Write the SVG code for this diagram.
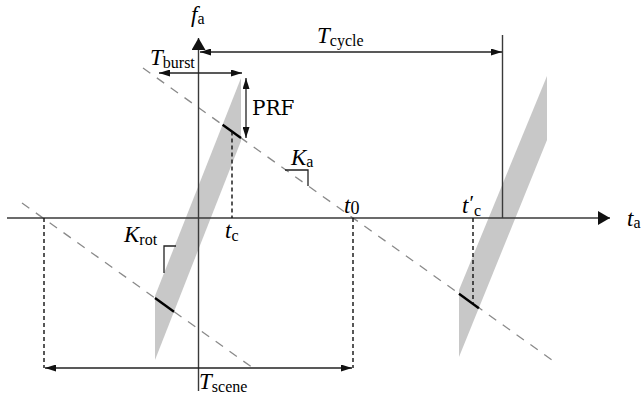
<svg xmlns="http://www.w3.org/2000/svg" width="642" height="396" viewBox="0 0 642 396">
<style>
.ax{stroke:#3a3a3a;stroke-width:1.4;fill:none}
.dim{stroke:#222;stroke-width:1.3;fill:none}
.gd{stroke:#8a8a8a;stroke-width:1.3;stroke-dasharray:9 8;fill:none}
.bd{stroke:#111;stroke-width:1.4;stroke-dasharray:4 3;fill:none}
.seg{stroke:#000;stroke-width:2.4}
.band{fill:#c8c8c8}
.tri{stroke:#222;stroke-width:1.3;fill:none}
text{font-family:"Liberation Serif","Times New Roman",serif;fill:#000}
.m{font-size:23px;font-style:italic}
.s{font-size:16px;font-style:normal}
.r{font-size:20px;font-family:"DejaVu Serif","Liberation Serif",serif}
</style>
<defs>
<marker id="ah" viewBox="0 0 11 7" refX="11" refY="3.5" markerWidth="11" markerHeight="7" markerUnits="userSpaceOnUse" orient="auto-start-reverse">
<path d="M0,0 L11,3.5 L0,7 z" fill="#111"/>
</marker>
<marker id="axh" viewBox="0 0 12 14" refX="12" refY="7" markerWidth="12" markerHeight="14" markerUnits="userSpaceOnUse" orient="auto">
<path d="M0,0 L12,7 L0,14 z" fill="#111"/>
</marker>
</defs>

<g id="bands">
<polygon id="band1" class="band" points="241,78 241,141 155,360 155,296"/>
<polygon id="band2" class="band" points="547,76 547,140 459,357 459,290"/>
</g>

<g id="connectors">
<line class="gd" x1="143" y1="68" x2="552" y2="360"/>
<line class="gd" x1="22" y1="203" x2="253" y2="368"/>
<line class="seg" x1="222.6" y1="124.7" x2="241" y2="138"/>
<line class="seg" x1="155" y1="298" x2="174" y2="311.7"/>
<line class="seg" x1="459" y1="293.8" x2="478.9" y2="308.2"/>
<line class="ax" x1="7" y1="218" x2="610" y2="218" marker-end="url(#axh)"/>
<line class="ax" x1="198.5" y1="391" x2="198.5" y2="38" marker-end="url(#axh)"/>
<line class="ax" x1="502.5" y1="35" x2="502.5" y2="218"/>
<line class="bd" x1="232" y1="131.5" x2="232" y2="218"/>
<line class="bd" x1="44" y1="218" x2="44" y2="368"/>
<line class="bd" x1="353" y1="218" x2="353" y2="368"/>
<line class="bd" x1="473" y1="218" x2="473" y2="303"/>
<line class="dim" x1="200" y1="52" x2="502" y2="52" marker-start="url(#ah)" marker-end="url(#ah)"/>
<line class="dim" x1="159" y1="73" x2="242" y2="73" marker-start="url(#ah)" marker-end="url(#ah)"/>
<line class="dim" x1="246" y1="78" x2="246" y2="138" marker-start="url(#ah)" marker-end="url(#ah)"/>
<line class="dim" x1="45" y1="368" x2="352" y2="368" marker-start="url(#ah)" marker-end="url(#ah)"/>
<polyline class="tri" points="285,170 308,170 308,186"/>
<polyline class="tri" points="176,246 164,246 164,273"/>
</g>

<g id="labels">
<text id="fa" x="191" y="22" class="m">f<tspan class="s" dy="2">a</tspan></text>
<text id="ta" x="627" y="226" class="m">t<tspan class="s" dy="2">a</tspan></text>
<text id="tcycle" x="317" y="43" class="m">T<tspan class="s" dy="3">cycle</tspan></text>
<text id="tburst" x="150" y="65" class="m">T<tspan class="s" dy="3">burst</tspan></text>
<text id="prf" x="252" y="115" class="r">PRF</text>
<text id="ka" x="291" y="165" class="m">K<tspan class="s" dy="2">a</tspan></text>
<text id="krot" x="124" y="242" class="m">K<tspan class="s" dy="3">rot</tspan></text>
<text id="tc" x="225" y="238" class="m">t<tspan class="s" dy="3">c</tspan></text>
<text id="t0" x="344" y="213" class="m">t<tspan style="font-style:normal;font-size:18px" dy="1">0</tspan></text>
<text id="tcp" x="462" y="213" class="m">t<tspan style="font-style:normal;font-size:21px" dx="1" dy="-3">′</tspan><tspan class="s" dy="6">c</tspan></text>
<text id="tscene" x="199" y="389" class="m">T<tspan class="s" dy="3">scene</tspan></text>
</g>
</svg>
